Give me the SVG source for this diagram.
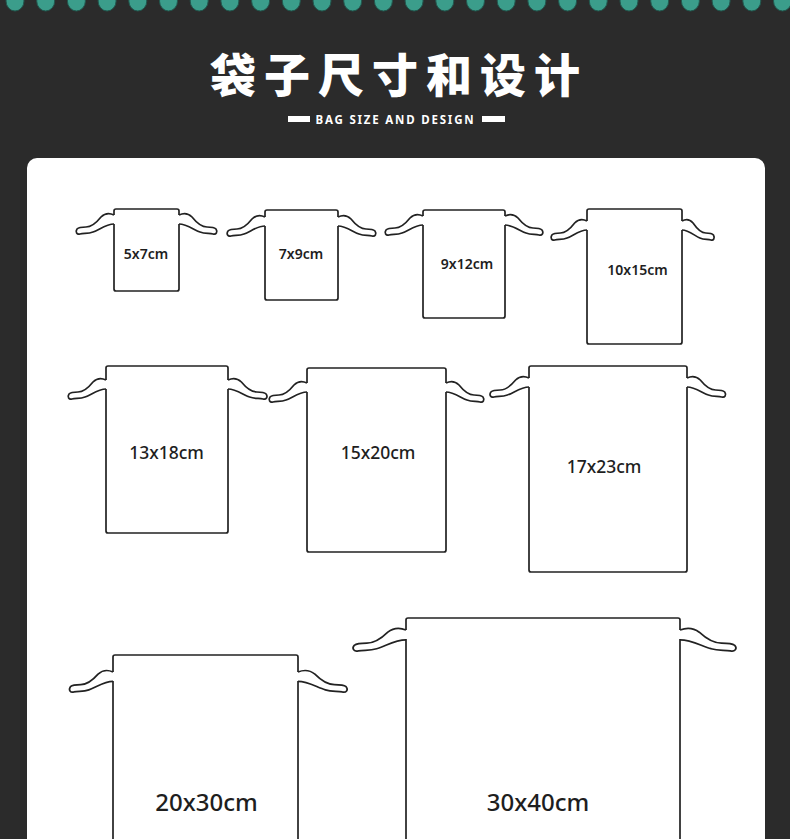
<svg xmlns="http://www.w3.org/2000/svg" xmlns:xlink="http://www.w3.org/1999/xlink" width="790" height="839" viewBox="0 0 790 839">
<style>
.dot{fill:#3b9d8b;stroke:#22574e;stroke-width:1}
.bag{fill:none;stroke:#222;stroke-width:1.7;stroke-linejoin:round}
.str{fill:none;stroke:#222;stroke-width:1.7;stroke-linejoin:round;vector-effect:non-scaling-stroke}
.lbl{font-family:"Noto Sans","Liberation Sans",sans-serif;fill:#1e1e1e;text-anchor:middle}
.s{font-size:14px;font-weight:600}
.m{font-size:17.5px;font-weight:500}
.l{font-size:24px;font-weight:500}
</style>
<defs>
<path id="sL" class="str" d="M 0,0 C -4,-2 -9,-2 -13,2 C -17,7 -22,12 -28,12 C -32,12 -35,12 -37,14 C -39,17 -37,20 -34,19 C -30,18 -26,19 -21,17 C -15,15 -8,9 0,9"/>
</defs>
<rect width="790" height="839" fill="#2b2b2b"/>
<g id="dots">
<ellipse class="dot" cx="15" cy="1" rx="9" ry="10"/><ellipse class="dot" cx="45.7" cy="1" rx="9" ry="10"/><ellipse class="dot" cx="76.4" cy="1" rx="9" ry="10"/><ellipse class="dot" cx="107.1" cy="1" rx="9" ry="10"/><ellipse class="dot" cx="137.8" cy="1" rx="9" ry="10"/><ellipse class="dot" cx="168.5" cy="1" rx="9" ry="10"/><ellipse class="dot" cx="199.2" cy="1" rx="9" ry="10"/><ellipse class="dot" cx="229.9" cy="1" rx="9" ry="10"/><ellipse class="dot" cx="260.6" cy="1" rx="9" ry="10"/><ellipse class="dot" cx="291.3" cy="1" rx="9" ry="10"/><ellipse class="dot" cx="322" cy="1" rx="9" ry="10"/><ellipse class="dot" cx="352.7" cy="1" rx="9" ry="10"/><ellipse class="dot" cx="383.4" cy="1" rx="9" ry="10"/><ellipse class="dot" cx="414.1" cy="1" rx="9" ry="10"/><ellipse class="dot" cx="444.8" cy="1" rx="9" ry="10"/><ellipse class="dot" cx="475.5" cy="1" rx="9" ry="10"/><ellipse class="dot" cx="506.2" cy="1" rx="9" ry="10"/><ellipse class="dot" cx="536.9" cy="1" rx="9" ry="10"/><ellipse class="dot" cx="567.6" cy="1" rx="9" ry="10"/><ellipse class="dot" cx="598.3" cy="1" rx="9" ry="10"/><ellipse class="dot" cx="629" cy="1" rx="9" ry="10"/><ellipse class="dot" cx="659.7" cy="1" rx="9" ry="10"/><ellipse class="dot" cx="690.4" cy="1" rx="9" ry="10"/><ellipse class="dot" cx="721.1" cy="1" rx="9" ry="10"/><ellipse class="dot" cx="751.8" cy="1" rx="9" ry="10"/><ellipse class="dot" cx="782.5" cy="1" rx="9" ry="10"/>
</g>
<g id="title">
<text x="399" y="92" font-family="'Noto Sans CJK SC','Noto Sans CJK JP',sans-serif" font-size="46" font-weight="900" letter-spacing="8" fill="#fff" text-anchor="middle">袋子尺寸和设计</text>
<rect x="288" y="116" width="22" height="6" fill="#fff"/>
<rect x="482" y="116" width="23" height="6" fill="#fff"/>
<text x="395.5" y="123.5" font-family="'Noto Sans','Liberation Sans',sans-serif" font-size="11.5" font-weight="700" letter-spacing="1.8" fill="#fff" text-anchor="middle">BAG SIZE AND DESIGN</text>
</g>
<rect id="panel" x="27" y="158" width="738" height="720" rx="10" fill="#fff"/>
<g id="connectors"></g>
<g id="bag1">
<path class="bag" d="M114,215 V211 Q114,209 116,209 H177 Q179,209 179,211 V215 M179,224 V289 Q179,291 177,291 H116 Q114,291 114,289 V224"/>
<use xlink:href="#sL" transform="translate(114,215)"/><use xlink:href="#sL" transform="translate(179,215) scale(-1,1)"/>
<text class="lbl s" x="146" y="259">5x7cm</text>
</g>
<g id="bag2">
<path class="bag" d="M265,217 V212 Q265,210 267,210 H336 Q338,210 338,212 V217 M338,226 V298 Q338,300 336,300 H267 Q265,300 265,298 V226"/>
<use xlink:href="#sL" transform="translate(265,217)"/><use xlink:href="#sL" transform="translate(338,217) scale(-1,1)"/>
<text class="lbl s" x="301" y="259">7x9cm</text>
</g>
<g id="bag3">
<path class="bag" d="M423,216 V212 Q423,210 425,210 H503 Q505,210 505,212 V216 M505,225 V316 Q505,318 503,318 H425 Q423,318 423,316 V225"/>
<use xlink:href="#sL" transform="translate(423,216)"/><use xlink:href="#sL" transform="translate(505,216) scale(-1,1)"/>
<text class="lbl s" x="467" y="269">9x12cm</text>
</g>
<g id="bag4">
<path class="bag" d="M587,221 V211 Q587,209 589,209 H680 Q682,209 682,211 V221 M682,230 V342 Q682,344 680,344 H589 Q587,344 587,342 V230"/>
<use xlink:href="#sL" transform="translate(587,221) scale(0.95,1)"/><use xlink:href="#sL" transform="translate(682,221) scale(-0.85,1)"/>
<text class="lbl s" x="637.5" y="275">10x15cm</text>
</g>
<g id="bag5">
<path class="bag" d="M106,380 V368 Q106,366 108,366 H226 Q228,366 228,368 V380 M228,389 V531 Q228,533 226,533 H108 Q106,533 106,531 V389"/>
<use xlink:href="#sL" transform="translate(106,380)"/><use xlink:href="#sL" transform="translate(228,380) scale(-1.03,1)"/>
<text class="lbl m" x="166.5" y="459">13x18cm</text>
</g>
<g id="bag6">
<path class="bag" d="M307,383 V370 Q307,368 309,368 H444 Q446,368 446,370 V383 M446,392 V550 Q446,552 444,552 H309 Q307,552 307,550 V392"/>
<use xlink:href="#sL" transform="translate(307,383)"/><use xlink:href="#sL" transform="translate(446,383) scale(-1,1)"/>
<text class="lbl m" x="378" y="459">15x20cm</text>
</g>
<g id="bag7">
<path class="bag" d="M529,378 V368 Q529,366 531,366 H685 Q687,366 687,368 V378 M687,387 V570 Q687,572 685,572 H531 Q529,572 529,570 V387"/>
<use xlink:href="#sL" transform="translate(529,378) scale(1.03,1)"/><use xlink:href="#sL" transform="translate(687,378) scale(-1.02,1)"/>
<text class="lbl m" x="604" y="473">17x23cm</text>
</g>
<g id="bag8">
<path class="bag" d="M113,672 V657 Q113,655 115,655 H296 Q298,655 298,657 V672 M298,681 V900 M113,900 V681"/>
<use xlink:href="#sL" transform="translate(113,672) scale(1.15,1.05)"/><use xlink:href="#sL" transform="translate(298,672) scale(-1.3,1.05)"/>
<text class="lbl l" x="206.5" y="811">20x30cm</text>
</g>
<g id="bag9">
<path class="bag" d="M406,630 V620 Q406,618 408,618 H678 Q680,618 680,620 V630 M680,639 V900 M406,900 V639"/>
<use xlink:href="#sL" transform="translate(406,630) scale(1.4,1.1)"/><use xlink:href="#sL" transform="translate(680,630) scale(-1.48,1.1)"/>
<text class="lbl l" x="538" y="811">30x40cm</text>
</g>
</svg>
